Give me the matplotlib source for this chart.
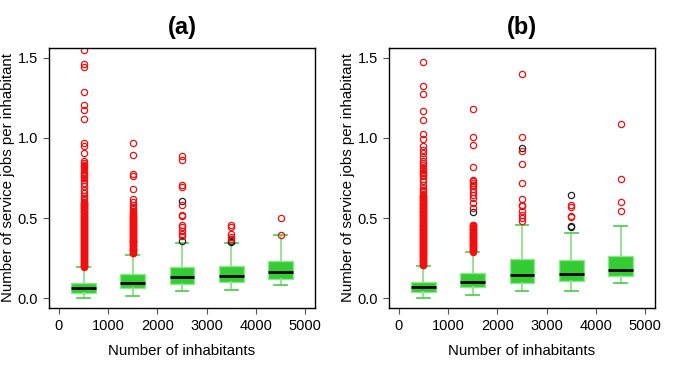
import matplotlib
matplotlib.use('Agg')
import matplotlib.pyplot as plt

plt.rcParams['font.family'] = ['Liberation Sans', 'DejaVu Sans']

positions = [500, 1500, 2500, 3500, 4500]
titles = ['(a)', '(b)']

# box statistics: whislo, q1, med, q3, whishi
stats_a = [
    [0.000, 0.035, 0.064, 0.097, 0.193],
    [0.015, 0.066, 0.093, 0.149, 0.273],
    [0.046, 0.091, 0.133, 0.195, 0.346],
    [0.052, 0.104, 0.137, 0.200, 0.346],
    [0.081, 0.118, 0.162, 0.234, 0.394],
]
stats_b = [
    [0.000, 0.039, 0.068, 0.104, 0.203],
    [0.021, 0.073, 0.102, 0.157, 0.288],
    [0.044, 0.093, 0.143, 0.247, 0.456],
    [0.044, 0.110, 0.153, 0.242, 0.408],
    [0.093, 0.137, 0.174, 0.267, 0.452],
]

# red outliers
red_a = [
    [1.548, 1.458, 1.440, 1.284, 1.206, 1.175, 1.115, 0.967, 0.951, 0.905,
     0.858, 0.843, 0.832, 0.822, 0.811, 0.800, 0.790, 0.780, 0.770, 0.760,
     0.750, 0.740, 0.720, 0.700, 0.677, 0.657, 0.640, 0.626, 0.612,
     0.600, 0.595, 0.590, 0.585, 0.580, 0.575, 0.570, 0.565, 0.560, 0.555,
     0.550, 0.545, 0.540, 0.535, 0.530, 0.525, 0.520, 0.515, 0.510, 0.505,
     0.500, 0.495, 0.490, 0.485, 0.480, 0.475, 0.470, 0.465, 0.460, 0.455,
     0.450, 0.445, 0.440, 0.435, 0.430, 0.425, 0.420, 0.415, 0.410, 0.405,
     0.400, 0.395, 0.390, 0.385, 0.380, 0.375, 0.370, 0.365, 0.360, 0.355,
     0.350, 0.345, 0.340, 0.335, 0.330, 0.325, 0.320, 0.315, 0.310, 0.305,
     0.300, 0.295, 0.290, 0.285, 0.280, 0.275, 0.270, 0.265, 0.260, 0.255,
     0.250, 0.245, 0.240, 0.235, 0.230, 0.225, 0.220, 0.215, 0.210, 0.205,
     0.200, 0.196],
    [0.967, 0.893, 0.777, 0.765, 0.680, 0.620, 0.600, 0.584, 0.570, 0.557,
     0.545, 0.535, 0.530, 0.525, 0.520, 0.515, 0.510, 0.505, 0.500, 0.495,
     0.490, 0.485, 0.480, 0.475, 0.470, 0.465, 0.460, 0.455, 0.450, 0.445,
     0.440, 0.435, 0.430, 0.425, 0.420, 0.415, 0.410, 0.405, 0.400, 0.395,
     0.390, 0.385, 0.380, 0.375, 0.370, 0.365, 0.360, 0.355, 0.350, 0.345,
     0.340, 0.335, 0.330, 0.325, 0.320, 0.315, 0.310, 0.305, 0.300, 0.295,
     0.290, 0.285, 0.280],
    [0.885, 0.860, 0.708, 0.694, 0.580, 0.522, 0.512, 0.460, 0.445, 0.420,
     0.400, 0.390],
    [0.456, 0.445, 0.398, 0.383, 0.371],
    [0.499, 0.394],
]
red_b = [
    [1.471, 1.326, 1.276, 1.166, 1.112, 1.025, 0.992, 0.947, 0.926, 0.905,
     0.878, 0.858, 0.845, 0.833, 0.815, 0.800, 0.790, 0.780, 0.770, 0.760,
     0.745, 0.729, 0.708, 0.690, 0.677, 0.660, 0.646,
     0.640, 0.635, 0.630, 0.625, 0.620, 0.615, 0.610, 0.605, 0.600, 0.595,
     0.590, 0.585, 0.580, 0.575, 0.570, 0.565, 0.560, 0.555, 0.550, 0.545,
     0.540, 0.535, 0.530, 0.525, 0.520, 0.515, 0.510, 0.505, 0.500, 0.495,
     0.490, 0.485, 0.480, 0.475, 0.470, 0.465, 0.460, 0.455, 0.450, 0.445,
     0.440, 0.435, 0.430, 0.425, 0.420, 0.415, 0.410, 0.405, 0.400, 0.395,
     0.390, 0.385, 0.380, 0.375, 0.370, 0.365, 0.360, 0.355, 0.350, 0.345,
     0.340, 0.335, 0.330, 0.325, 0.320, 0.315, 0.310, 0.305, 0.300, 0.295,
     0.290, 0.285, 0.280, 0.275, 0.270, 0.265, 0.260, 0.255, 0.250, 0.245,
     0.240, 0.235, 0.230, 0.225, 0.220, 0.215, 0.210, 0.206],
    [1.181, 1.003, 0.953, 0.816, 0.740, 0.730, 0.719, 0.708, 0.698, 0.680,
     0.660, 0.646, 0.626, 0.595, 0.563, 0.460, 0.455, 0.450, 0.445, 0.440,
     0.435, 0.430, 0.425, 0.420, 0.415, 0.410, 0.405, 0.400, 0.395, 0.390,
     0.385, 0.380, 0.375, 0.370, 0.365, 0.360, 0.355, 0.350, 0.345, 0.340,
     0.335, 0.330, 0.325, 0.320, 0.315, 0.310, 0.305, 0.300, 0.295, 0.291],
    [1.400, 1.007, 0.916, 0.837, 0.719, 0.621, 0.584, 0.574, 0.543, 0.522,
     0.501, 0.480],
    [0.580, 0.570, 0.512, 0.508],
    [1.086, 0.744, 0.603, 0.547],
]
# black outliers
black_a = [[], [0.350, 0.300], [0.609, 0.356], [0.358, 0.352], []]
black_b = [[], [0.539], [0.936], [0.644, 0.450, 0.443], []]

panels = [(stats_a, red_a, black_a), (stats_b, red_b, black_b)]

fig = plt.figure(figsize=(6.79, 3.70), dpi=100)
lefts = [0.0722, 0.5729]

for p in range(2):
    stats, red, black = panels[p]
    ax = fig.add_axes([lefts[p], 0.1676, 0.3918, 0.7027])
    bstats = []
    for s in stats:
        bstats.append({'whislo': s[0], 'q1': s[1], 'med': s[2],
                       'q3': s[3], 'whishi': s[4], 'fliers': []})
    ax.bxp(bstats, positions=positions, widths=500, capwidths=260,
           patch_artist=True, showfliers=False,
           boxprops=dict(facecolor='#33cc33', edgecolor='#8fe68f', linewidth=1),
           whiskerprops=dict(color='#8fe08f', linewidth=1.3),
           capprops=dict(color='#55d055', linewidth=1.3),
           medianprops=dict(color='black', linewidth=2))
    for i in range(len(positions)):
        ax.plot([positions[i]] * len(black[i]), black[i], 'o', mfc='none',
                mec='#222222', ms=4.5, mew=0.9)
        ax.plot([positions[i]] * len(red[i]), red[i], 'o', mfc='none',
                mec='#f01010', ms=4.5, mew=0.9)

    ax.set_xlim(-200, 5200)
    ax.set_ylim(-0.06, 1.56)
    ax.set_xticks([0, 1000, 2000, 3000, 4000, 5000])
    ax.set_xticklabels(['0', '1000', '2000', '3000', '4000', '5000'])
    ax.set_yticks([0.0, 0.5, 1.0, 1.5])
    ax.set_yticklabels(['0.0', '0.5', '1.0', '1.5'])
    ax.tick_params(labelsize=10.5, length=4, color='#555555', pad=4)
    for sp in ax.spines.values():
        sp.set_linewidth(1)
    ax.set_xlabel('Number of inhabitants', fontsize=10.8, labelpad=8)
    ax.set_ylabel('Number of service jobs per inhabitant', fontsize=10.8, labelpad=2)
    ax.set_title(titles[p], fontsize=17, fontweight='bold', pad=10)

fig.savefig('out.png', dpi=100)
